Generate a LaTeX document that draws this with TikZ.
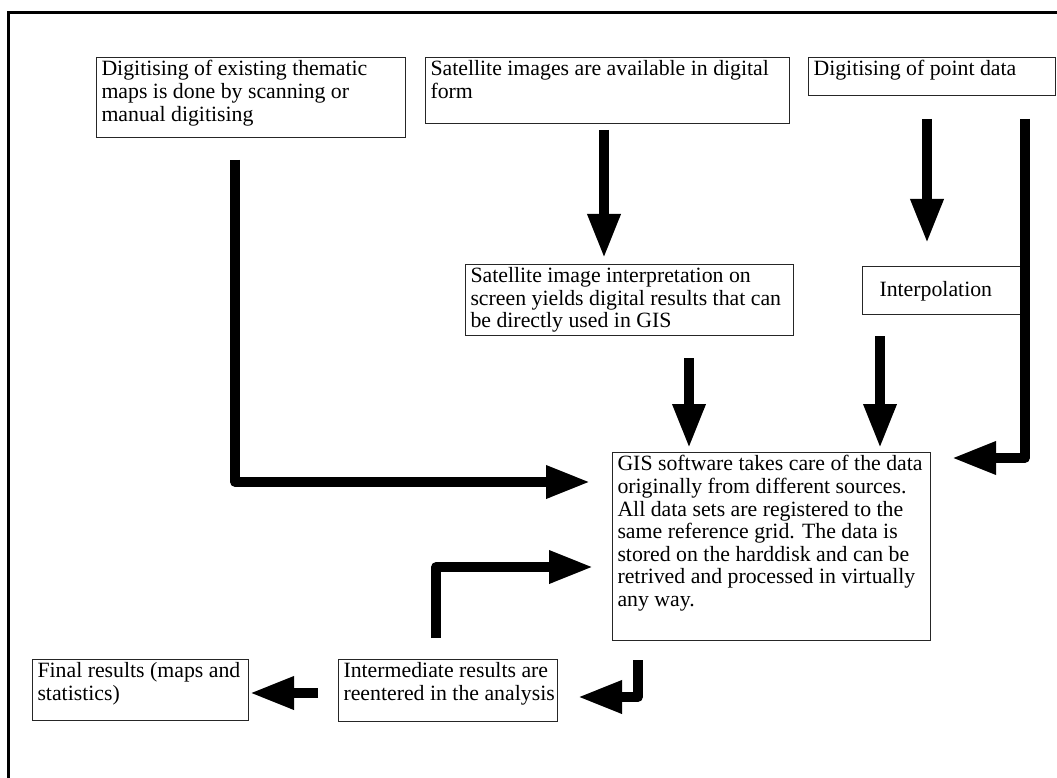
\documentclass[tikz,border=0pt]{standalone}
\usepackage{fontspec}
\setmainfont{Liberation Serif}
\usetikzlibrary{arrows.meta}
\newcommand\bxt[3]{\parbox[c][#2][t]{#1}{\raggedright #3}}
\newcommand\tl[1]{\mbox{#1}}
\begin{document}
\begin{tikzpicture}[x=1pt,y=-1pt,
  font=\fontsize{21.8}{22.6}\selectfont,
  box/.style={draw=black!85,line width=1pt,anchor=north west,inner xsep=5pt,inner ysep=3pt},
  flow/.style={line width=9.5pt,line join=round,-{Triangle[width=31pt,length=44pt]}},
  frame/.style={line width=3pt}]
\useasboundingbox (0,0) rectangle (1057,778);
\draw[frame] (8,1000) -- (8,13) -- (1100,13);
% boxes
\node[box] (A) at (96,57) {\bxt{299pt}{74pt}{\tl{Digitising of existing thematic}\\\tl{maps is done by scanning or}\\\tl{manual digitising}}};
\node[box] (B) at (425,57) {\bxt{354pt}{60pt}{\tl{Satellite images are available in digital}\\\tl{form}}};
\node[box] (C) at (808,57) {\bxt{237pt}{32pt}{\tl{Digitising of point data}}};
\node[box] (D) at (465,264) {\bxt{318pt}{65pt}{\tl{Satellite image interpretation on}\\\tl{screen yields digital results that can}\\\tl{be directly used in GIS}}};
\node[box,inner xsep=17pt] (E) at (862,266) {\bxt{131pt}{42pt}{\vspace{12pt}\tl{Interpolation}}};
\node[box] (F) at (612,452) {\bxt{308pt}{182pt}{\tl{GIS software takes care of the data}\\\tl{originally from different sources.}\\\tl{All data sets are registered to the}\\\tl{same reference grid. The data is}\\\tl{stored on the harddisk and can be}\\\tl{retrived and processed in virtually}\\\tl{any way.}}};
\node[box] (G) at (338,659) {\bxt{209pt}{56pt}{\tl{Intermediate results are}\\\tl{reentered in the analysis}}};
\node[box] (H) at (32,659) {\bxt{206pt}{55pt}{\tl{Final results (maps and}\\\tl{statistics)}}};
% connector points
\coordinate (a1) at (235,160);
\coordinate (a2) at (235,482);
\coordinate (a3) at (590,482);
\coordinate (b1) at (604,130);
\coordinate (b2) at (604,258);
\coordinate (c1) at (927,119);
\coordinate (c2) at (927,243);
\coordinate (r1) at (1025,119);
\coordinate (r2) at (1025,458);
\coordinate (r3) at (952,458);
\coordinate (d1) at (689,358);
\coordinate (d2) at (689,448);
\coordinate (e1) at (880,336);
\coordinate (e2) at (880,448);
\coordinate (g1) at (436,638);
\coordinate (g2) at (436,567);
\coordinate (g3) at (593,567);
\coordinate (f1) at (638,660);
\coordinate (f2) at (638,697);
\coordinate (f3) at (578,697);
\coordinate (h1) at (318,693);
\coordinate (h2) at (250,693);
% arrows
\draw[flow] (a1) -- (a2) -- (a3);
\draw[flow] (b1) -- (b2);
\draw[flow] (c1) -- (c2);
\draw[flow] (r1) -- (r2) -- (r3);
\draw[flow] (d1) -- (d2);
\draw[flow] (e1) -- (e2);
\draw[flow] (g1) -- (g2) -- (g3);
\draw[flow] (f1) -- (f2) -- (f3);
\draw[flow] (h1) -- (h2);
\end{tikzpicture}
\end{document}
